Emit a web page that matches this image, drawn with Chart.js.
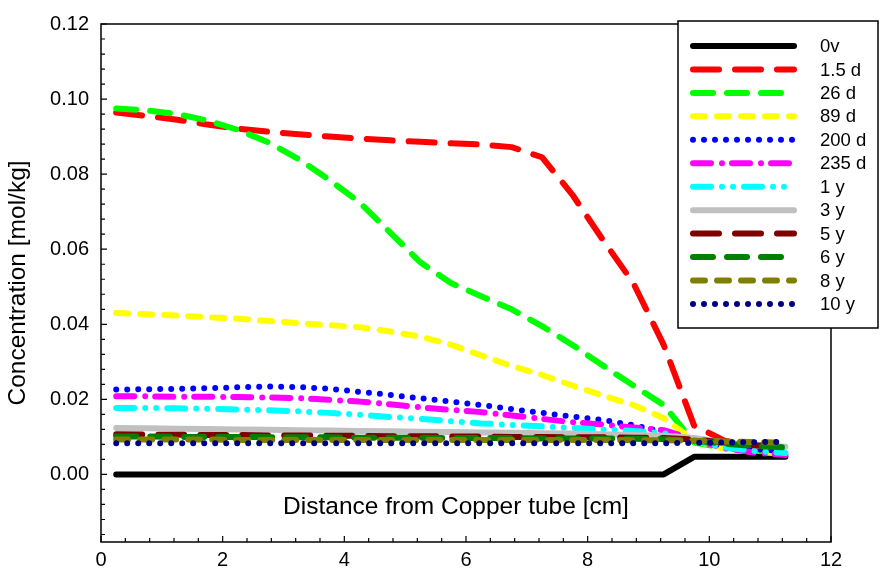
<!DOCTYPE html>
<html>
<head>
<meta charset="utf-8">
<script src="https://cdn.jsdelivr.net/npm/chart.js@4/dist/chart.umd.min.js"></script>
<style>
html,body{margin:0;padding:0;background:#fff;}
#wrap{width:884px;height:575px;position:relative;}
</style>
</head>
<body>
<div id="wrap"><canvas id="c" width="884" height="575"></canvas></div>
<script>
// ---- data ----
const distanceCm = [0.25,0.75,1.25,1.75,2.25,2.75,3.25,3.75,4.25,4.75,5.25,5.75,6.25,6.75,7.25,7.75,8.25,8.75,9.25,9.75,10.25,10.75,11.25];
const seriesLabels = ['0v','1.5 d','26 d','89 d','200 d','235 d','1 y','3 y','5 y','6 y','8 y','10 y'];
const conc_0v   = [0,0,0,0,0,0,0,0,0,0,0,0,0,0,0,0,0,0,0,0.0047,0.0047,0.0047,0.0047];
const conc_1_5d = [0.0964,0.0955,0.0945,0.0932,0.0921,0.0913,0.0906,0.0900,0.0895,0.0890,0.0886,0.0882,0.0879,0.0872,0.0845,0.0745,0.0625,0.0510,0.0345,0.0130,0.0090,0.0075,0.0065];
const conc_26d  = [0.0975,0.0970,0.0960,0.0943,0.0918,0.0885,0.0840,0.0785,0.0725,0.0645,0.0565,0.0510,0.0475,0.0440,0.0395,0.0345,0.0290,0.0237,0.0185,0.0085,0.0070,0.0063,0.0058];
const conc_89d  = [0.0430,0.0427,0.0423,0.0419,0.0415,0.0409,0.0403,0.0398,0.0392,0.0381,0.0367,0.0346,0.0317,0.0289,0.0265,0.0237,0.0210,0.0185,0.0150,0.0090,0.0068,0.0060,0.0055];
const conc_200d = [0.0226,0.0227,0.0228,0.0230,0.0232,0.0234,0.0233,0.0228,0.0220,0.0212,0.0203,0.0194,0.0185,0.0174,0.0164,0.0154,0.0145,0.0131,0.0113,0.0090,0.0075,0.0067,0.0062];
const conc_235d = [0.0208,0.0208,0.0207,0.0207,0.0206,0.0205,0.0203,0.0199,0.0194,0.0187,0.0179,0.0172,0.0166,0.0157,0.0148,0.0139,0.0133,0.0125,0.0118,0.0093,0.0070,0.0058,0.0052];
const conc_1y   = [0.0177,0.0177,0.0176,0.0175,0.0173,0.0171,0.0168,0.0164,0.0159,0.0153,0.0148,0.0142,0.0136,0.0132,0.0128,0.0124,0.0120,0.0116,0.0110,0.0088,0.0072,0.0062,0.0057];
const conc_3y   = [0.0124,0.0123,0.0122,0.0121,0.0120,0.0119,0.0118,0.0117,0.0116,0.0115,0.0114,0.0113,0.0112,0.0111,0.0110,0.0109,0.0107,0.0105,0.0103,0.0097,0.0085,0.0078,0.0074];
const conc_5y   = [0.0107,0.0106,0.0106,0.0105,0.0105,0.0104,0.0104,0.0103,0.0103,0.0102,0.0102,0.0101,0.0101,0.0100,0.0100,0.0099,0.0099,0.0098,0.0097,0.0093,0.0085,0.0078,0.0074];
const conc_6y   = [0.0101,0.0101,0.0100,0.0100,0.0100,0.0099,0.0099,0.0099,0.0098,0.0098,0.0098,0.0097,0.0097,0.0097,0.0096,0.0096,0.0096,0.0095,0.0094,0.0090,0.0082,0.0076,0.0072];
const conc_8y   = [0.0093,0.0093,0.0093,0.0093,0.0092,0.0092,0.0092,0.0092,0.0092,0.0092,0.0092,0.0092,0.0092,0.0092,0.0092,0.0092,0.0092,0.0091,0.0091,0.0090,0.0088,0.0086,0.0085];
const conc_10y  = [0.0083,0.0083,0.0083,0.0083,0.0083,0.0083,0.0083,0.0083,0.0083,0.0083,0.0083,0.0083,0.0083,0.0083,0.0083,0.0083,0.0083,0.0083,0.0083,0.0084,0.0085,0.0086,0.0087];
const xTickLabels = [0,2,4,6,8,10,12];
const yTickLabels = [0.00,0.02,0.04,0.06,0.08,0.10,0.12];

// ---- styles ----
const seriesValues = [conc_0v,conc_1_5d,conc_26d,conc_89d,conc_200d,conc_235d,conc_1y,conc_3y,conc_5y,conc_6y,conc_8y,conc_10y];
const colors = ['#000000','#FF0000','#00FF00','#FFFF00','#0000FF','#FF00FF','#00FFFF','#C0C0C0','#800000','#008000','#808000','#000080'];
const dashes = [[],[26,16],[20,14],[12,12],[0,11],[18,11,0,10],[18,11,0,11,0,11],[],[26,16],[20,14],[12,12],[0,11]];
const FONT = "'Liberation Sans', Arial, sans-serif";

const datasets = seriesValues.map((vals,i)=>({
  label: seriesLabels[i],
  data: distanceCm.map((x,j)=>({x:x,y:vals[j]})),
  borderColor: colors[i],
  backgroundColor: colors[i],
  borderWidth: 6,
  borderDash: dashes[i],
  borderCapStyle: 'round',
  borderJoinStyle: 'round',
  pointRadius: 0,
  fill: false,
  tension: 0,
  order: seriesLabels.length - i
}));

const decor = {
  id:'decor',
  afterDraw(chart){
    const ctx = chart.ctx, a = chart.chartArea;
    const xs = chart.scales.x, ys = chart.scales.y;
    ctx.save();
    // frame
    ctx.strokeStyle='#000'; ctx.lineWidth=1.5;
    ctx.strokeRect(a.left, a.top, a.right-a.left, a.bottom-a.top);
    // inward ticks
    ctx.lineWidth=1.2;
    ctx.beginPath();
    for(let k=0;k<=30;k++){
      const v = k*0.4; const px = xs.getPixelForValue(v);
      const major = (k%5===0);
      ctx.moveTo(px, a.bottom); ctx.lineTo(px, a.bottom-(major?6:4));
    }
    for(let k=-4;k<=30;k++){
      const v = k*0.004; const py = ys.getPixelForValue(v);
      if(py < a.top-0.5 || py > a.bottom+0.5) continue;
      const major = (k%5===0);
      ctx.moveTo(a.left, py); ctx.lineTo(a.left+(major?6:4), py);
    }
    ctx.stroke();
    // x title inside plot
    ctx.fillStyle='#000';
    ctx.font = '24.5px ' + FONT;
    ctx.textAlign='center'; ctx.textBaseline='middle';
    ctx.fillText('Distance from Copper tube [cm]', 456, 507);
    // legend
    const L=678, T=21, R=878, B=328;
    ctx.fillStyle='#fff';
    ctx.fillRect(L,T,R-L,B-T);
    ctx.strokeStyle='#000'; ctx.lineWidth=1.5;
    ctx.strokeRect(L,T,R-L,B-T);
    chart.data.datasets.forEach((ds,i)=>{
      const y = 46 + i*23.45;
      ctx.beginPath();
      ctx.strokeStyle = ds.borderColor;
      ctx.lineWidth = ds.borderWidth;
      ctx.lineCap = 'round';
      ctx.setLineDash(ds.borderDash);
      ctx.moveTo(693, y); ctx.lineTo(794, y);
      ctx.stroke();
      ctx.setLineDash([]);
      ctx.fillStyle='#000';
      ctx.font='18.5px ' + FONT;
      ctx.textAlign='left'; ctx.textBaseline='middle';
      ctx.fillText(ds.label, 820, y+1);
    });
    ctx.restore();
  }
};

new Chart(document.getElementById('c'), {
  type:'line',
  data:{ datasets: datasets },
  options:{
    responsive:false,
    animation:false,
    layout:{ padding:{ left:0, right:53, top:17, bottom:0 } },
    plugins:{ legend:{display:false}, tooltip:{enabled:false} },
    scales:{
      x:{
        type:'linear', min:0, max:12,
        afterBuildTicks(s){ s.ticks = xTickLabels.map(v=>({value:v})); },
        afterFit(s){ s.height = 33; },
        grid:{ display:false, drawTicks:false },
        border:{ display:false },
        ticks:{ color:'#000', font:{family:FONT, size:20}, padding:6, maxRotation:0,
          callback:(v)=>String(v) }
      },
      y:{
        type:'linear', min:-0.018, max:0.12,
        afterBuildTicks(s){ s.ticks = yTickLabels.map(v=>({value:v})); },
        afterFit(s){ s.width = 101; },
        grid:{ display:false, drawTicks:false },
        border:{ display:false },
        ticks:{ color:'#000', font:{family:FONT, size:20}, padding:12,
          callback:(v)=>Number(v).toFixed(2) },
        title:{ display:true, text:'Concentration [mol/kg]', color:'#000',
          font:{family:FONT, size:24.5}, padding:{top:4,bottom:0} }
      }
    }
  },
  plugins:[decor]
});
</script>
</body>
</html>
